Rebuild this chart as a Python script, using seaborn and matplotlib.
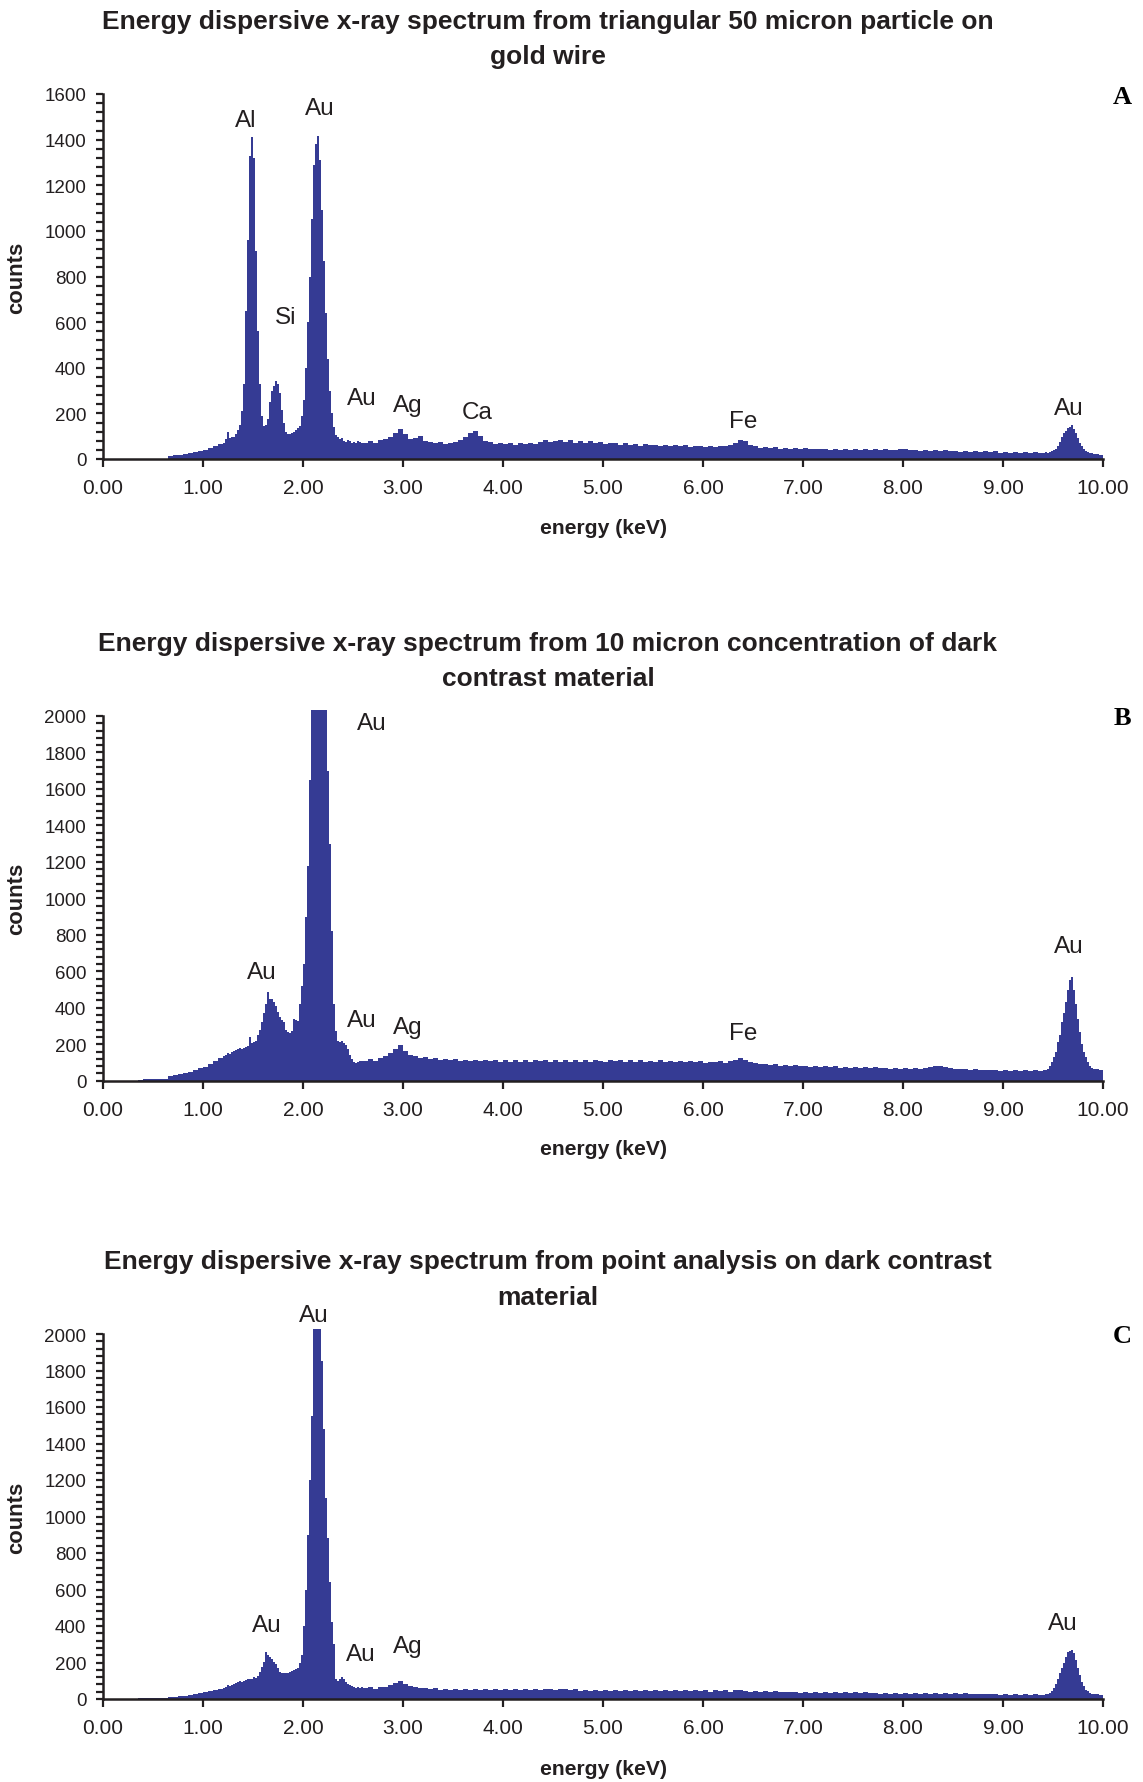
import numpy as np
import pandas as pd
import matplotlib
matplotlib.use("Agg")
import matplotlib.pyplot as plt
import seaborn as sns
from matplotlib.ticker import MultipleLocator, FormatStrFormatter

# ---------------- data ----------------
# energy bin edges (keV): coarse / fine / coarse / fine sections
edges = np.concatenate([
    np.linspace(0.30, 1.20, 19)[:-1],   # 0.05 keV bins
    np.linspace(1.20, 2.60, 71)[:-1],   # 0.02 keV bins
    np.linspace(2.60, 9.40, 137)[:-1],  # 0.05 keV bins
    np.linspace(9.40, 10.00, 31),       # 0.02 keV bins
])

# Panel A counts
a_lo = [0, 0, 0, 0, 0, 0, 0, 14, 16, 18, 22, 26, 30, 34, 40, 48, 58, 66]
a_pk = [72, 88, 118, 90, 96, 95, 110, 128, 150, 210,
        330, 650, 960, 1330, 1410, 1320, 910, 560, 330, 190,
        145, 150, 175, 250, 300, 320, 343, 330, 290, 215,
        160, 120, 110, 108, 115, 118, 125, 138, 145, 190,
        260, 400, 600, 800, 1050, 1290, 1380, 1416, 1310, 1090,
        870, 640, 440, 300, 200, 140, 105, 95, 88, 92,
        80, 75, 84, 78, 72, 75, 70, 80, 74, 68]
a_bg = [72, 80, 68, 82, 86, 95, 112, 130, 110, 88,
        90, 102, 80, 76, 70, 74, 66, 72, 76, 82,
        95, 115, 122, 100, 80, 74, 66, 72, 64, 70,
        62, 70, 64, 72, 66, 74, 82, 74, 80, 84,
        74, 82, 72, 80, 70, 78, 68, 76, 66, 68,
        70, 62, 68, 60, 67, 58, 65, 60, 62, 58,
        62, 56, 61, 55, 60, 54, 59, 56, 53, 58,
        52, 57, 56, 62, 70, 85, 78, 62, 55, 50,
        52, 47, 51, 46, 50, 45, 48, 44, 47, 43,
        46, 42, 45, 40, 44, 41, 43, 39, 44, 40,
        43, 39, 44, 40, 45, 41, 39, 44, 46, 40,
        41, 36, 40, 35, 39, 34, 38, 33, 37, 32,
        36, 31, 35, 30, 34, 29, 33, 28, 32, 27,
        31, 26, 30, 25, 29, 27]
a_hi = [27, 30, 28, 32, 35, 38, 45, 58, 75, 95,
        112, 124, 135, 142, 150, 132, 112, 90, 70, 55,
        44, 37, 32, 28, 26, 23, 21, 20, 19, 18]

# Panel B counts
b_lo = [0, 6, 8, 8, 9, 10, 12, 28, 32, 36, 40, 50, 60, 68, 76, 92, 108, 125]
b_pk = [135, 142, 150, 146, 158, 162, 168, 172, 178, 176,
        180, 186, 192, 240, 205, 212, 220, 248, 280, 320,
        370, 420, 484, 450, 450, 430, 410, 375, 350, 335,
        320, 280, 268, 262, 270, 340, 335, 330, 420, 520,
        640, 900, 1180, 1650, 2150, 2400, 2600, 2700, 2650, 2500,
        2300, 2080, 1700, 1300, 820, 420, 270, 220, 212, 215,
        205, 195, 175, 140, 118, 105, 98, 104, 110, 106]
b_bg = [110, 120, 108, 126, 135, 150, 175, 195, 165, 140,
        138, 126, 130, 118, 122, 114, 120, 112, 118, 110,
        116, 108, 115, 107, 114, 106, 113, 105, 112, 104,
        112, 105, 114, 103, 112, 106, 115, 104, 113, 105,
        112, 103, 114, 105, 113, 104, 114, 106, 103, 112,
        106, 113, 103, 111, 104, 112, 102, 110, 103, 111,
        103, 108, 101, 107, 100, 108, 101, 106, 99, 105,
        100, 106, 98, 106, 112, 122, 115, 102, 96, 93,
        94, 87, 90, 83, 87, 80, 85, 78, 83, 76,
        82, 75, 80, 73, 78, 72, 77, 71, 76, 70,
        74, 68, 73, 67, 72, 66, 71, 65, 70, 64,
        68, 64, 70, 74, 78, 80, 77, 72, 66, 62,
        64, 58, 63, 57, 61, 56, 60, 55, 59, 54,
        58, 53, 58, 52, 57, 53]
b_hi = [58, 60, 66, 82, 100, 130, 160, 210, 250, 320,
        370, 430, 500, 550, 568, 500, 420, 340, 265, 200,
        160, 130, 100, 82, 72, 65, 63, 62, 61, 60]

# Panel C counts
c_lo = [0, 5, 5, 6, 6, 7, 8, 10, 12, 14, 18, 22, 26, 31, 36, 42, 50, 57]
c_pk = [62, 68, 74, 70, 78, 84, 88, 92, 96, 94,
        100, 104, 110, 112, 108, 118, 116, 125, 150, 175,
        205, 256, 240, 228, 218, 205, 190, 170, 150, 145,
        142, 140, 145, 150, 155, 160, 162, 170, 195, 240,
        400, 600, 900, 1200, 1550, 2030, 2030, 2030, 2030, 1850,
        1480, 1100, 880, 640, 420, 300, 110, 100, 112, 118,
        110, 95, 84, 78, 70, 66, 63, 66, 62, 64]
c_bg = [58, 64, 54, 66, 68, 75, 85, 97, 80, 70,
        66, 58, 60, 53, 58, 50, 56, 49, 55, 48,
        54, 49, 56, 50, 55, 48, 57, 50, 56, 49,
        56, 49, 57, 50, 56, 48, 55, 57, 49, 56,
        54, 47, 53, 46, 52, 45, 51, 44, 50, 45,
        49, 44, 48, 43, 49, 42, 50, 43, 48, 42,
        48, 43, 47, 42, 48, 44, 47, 42, 47, 41,
        48, 42, 48, 41, 47, 49, 44, 40, 45, 39,
        43, 38, 42, 37, 41, 36, 40, 35, 40, 34,
        39, 33, 38, 32, 38, 33, 37, 31, 37, 32,
        36, 31, 35, 30, 35, 30, 34, 29, 35, 30,
        34, 28, 34, 27, 33, 28, 32, 26, 32, 27,
        31, 26, 30, 25, 29, 25, 29, 24, 29, 24,
        28, 23, 28, 22, 27, 23]
c_hi = [24, 25, 28, 35, 45, 60, 80, 110, 140, 170,
        200, 230, 255, 262, 270, 250, 215, 170, 130, 95,
        70, 52, 42, 35, 30, 28, 26, 25, 24, 24]

# peak labels (text, energy keV, counts)
a_lab = ["Al", "Au", "Si", "Au", "Ag", "Ca", "Fe", "Au"]
a_lx = [1.43, 2.17, 1.83, 2.59, 3.05, 3.74, 6.40, 9.66]
a_ly = [1488, 1538, 621, 267, 237, 207, 166, 223]

b_lab = ["Au", "Au", "Au", "Ag", "Fe", "Au"]
b_lx = [2.69, 1.59, 2.59, 3.05, 6.40, 9.66]
b_ly = [1964, 598, 331, 294, 263, 736]

c_lab = ["Au", "Au", "Au", "Ag", "Au"]
c_lx = [2.11, 1.64, 2.58, 3.05, 9.60]
c_ly = [2104, 403, 247, 291, 415]

titles = [
    ("Energy dispersive x-ray spectrum from triangular 50 micron particle on", "gold wire"),
    ("Energy dispersive x-ray spectrum from 10 micron concentration of dark", "contrast material"),
    ("Energy dispersive x-ray spectrum from point analysis on dark contrast", "material"),
]
letters = ["A", "B", "C"]

# ---------------- style ----------------
sns.set_style("ticks")
plt.rcParams["font.family"] = ["Liberation Sans", "DejaVu Sans"]

BLUE = "#353b94"
INK = "#231f20"
W, H = 1143, 1783

fig = plt.figure(figsize=(W / 100, H / 100), dpi=100)

centers = (edges[:-1] + edges[1:]) / 2
bin_list = [float(e) for e in edges]
panels = [
    (a_lo + a_pk + a_bg + a_hi, a_lab, a_lx, a_ly, 1600, 1600, 460.0, 95.0),
    (b_lo + b_pk + b_bg + b_hi, b_lab, b_lx, b_ly, 2035, 2000, 1081.7, 717.0),
    (c_lo + c_pk + c_bg + c_hi, c_lab, c_lx, c_ly, 2035, 2000, 1700.0, 1335.0),
]
title_y = [(21.6, 57.0), (643.7, 679.0), (1262.4, 1297.7)]
xlabel_y = [528.0, 1150.0, 1769.7]

tfont = dict(fontsize=19, fontweight="bold")
xfont = dict(fontsize=15.2, fontweight="bold")

left_px, right_px = 103.0, 1103.0
for i, (counts, labs, lx, ly, ytop, yspine, y0px, y2000px) in enumerate(panels):
    h_px = (y0px - y2000px) * ytop / yspine
    ax = fig.add_axes([left_px / W, 1 - y0px / H, (right_px - left_px) / W, h_px / H])
    df = pd.DataFrame({"energy": centers, "counts": np.asarray(counts, float)})
    sns.histplot(data=df, x="energy", weights="counts", bins=bin_list,
                 element="step", fill=True, color=BLUE, alpha=1.0,
                 linewidth=0, ax=ax)
    ax.set_xlim(0, 10)
    ax.set_ylim(0, ytop)
    ax.set_xlabel("")
    ax.set_ylabel("")
    ax.xaxis.set_major_locator(MultipleLocator(1.0))
    ax.xaxis.set_major_formatter(FormatStrFormatter("%.2f"))
    ax.yaxis.set_major_locator(MultipleLocator(200))
    ax.yaxis.set_minor_locator(MultipleLocator(40))
    ax.spines["top"].set_visible(False)
    ax.spines["right"].set_visible(False)
    for s in ("left", "bottom"):
        ax.spines[s].set_linewidth(1.8)
        ax.spines[s].set_color(INK)
    ax.spines["left"].set_bounds(0, yspine)
    ax.tick_params(axis="both", which="both", direction="out", color=INK,
                   width=1.6, labelcolor=INK)
    ax.tick_params(axis="y", which="major", length=5, pad=7, labelsize=13.5)
    ax.tick_params(axis="y", which="minor", length=5)
    ax.tick_params(axis="x", which="major", length=6, pad=8, labelsize=15)
    ax.set_facecolor("white")
    for t, xx, yy in zip(labs, lx, ly):
        ax.text(xx, yy, t, ha="center", va="center", fontsize=17.5,
                color=INK, clip_on=False)
    # titles
    l1, l2 = titles[i]
    fig.text(548 / W, 1 - title_y[i][0] / H, l1, ha="center", va="center", color=INK, **tfont)
    fig.text(548 / W, 1 - title_y[i][1] / H, l2, ha="center", va="center", color=INK, **tfont)
    # axis labels
    fig.text(603 / W, 1 - xlabel_y[i] / H, "energy (keV)", ha="center", va="center",
             color=INK, **xfont)
    fig.text(17 / W, 1 - ((y0px + y2000px) / 2) / H, "counts", rotation=90,
             ha="center", va="center", color=INK, fontsize=15.8, fontweight="bold")
    # panel letter
    fig.text(1122 / W, 1 - (y2000px + 2) / H, letters[i], ha="center", va="center",
             color="black", fontsize=19, fontweight="bold",
             family=["Liberation Serif", "DejaVu Serif"])

fig.savefig("out.png", dpi=100, facecolor="white")
